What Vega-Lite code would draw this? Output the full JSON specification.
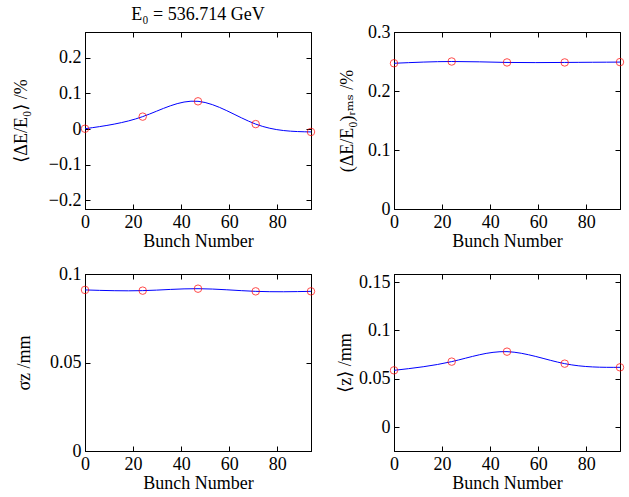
{
  "$schema": "https://vega.github.io/schema/vega-lite/v6.json",
  "background": "white",
  "padding": {"left": 11, "top": 5, "right": 5, "bottom": 5},
  "config": {
    "view": {"stroke": "black", "strokeWidth": 1},
    "axis": {
      "grid": false,
      "domainColor": "black",
      "tickColor": "black",
      "tickSize": -5,
      "labelPadding": 9,
      "labelFont": "'Liberation Serif', 'DejaVu Serif', serif",
      "labelFontSize": 18,
      "labelColor": "black",
      "labelFlush": false,
      "titleFont": "'Liberation Serif', 'DejaVu Serif', serif",
      "titleFontSize": 18,
      "titleFontWeight": "normal",
      "titleColor": "black",
      "titlePadding": 1
    }
  },
  "datasets": {
    "p1": [
      {"bunch": 0, "v": 0.001},
      {"bunch": 24, "v": 0.035},
      {"bunch": 47, "v": 0.078},
      {"bunch": 71, "v": 0.014},
      {"bunch": 94, "v": -0.008}
    ],
    "p2": [
      {"bunch": 0, "v": 0.247},
      {"bunch": 24, "v": 0.250},
      {"bunch": 47, "v": 0.2484},
      {"bunch": 71, "v": 0.2484},
      {"bunch": 94, "v": 0.249}
    ],
    "p3": [
      {"bunch": 0, "v": 0.0910},
      {"bunch": 24, "v": 0.0906},
      {"bunch": 47, "v": 0.0917},
      {"bunch": 71, "v": 0.0902},
      {"bunch": 94, "v": 0.0902}
    ],
    "p4": [
      {"bunch": 0, "v": 0.0588},
      {"bunch": 24, "v": 0.0678},
      {"bunch": 47, "v": 0.0781},
      {"bunch": 71, "v": 0.0657},
      {"bunch": 94, "v": 0.0619}
    ]
  },
  "columns": 2,
  "spacing": {"row": 65, "column": 83},
  "bounds": "flush",
  "concat": [
    {
      "width": 226, "height": 177,
      "title": {"text": "E₀ = 536.714 GeV", "font": "'Liberation Serif', 'DejaVu Serif', serif", "fontSize": 18, "fontWeight": "normal", "offset": 8, "color": "black"},
      "data": {"name": "p1"},
      "layer": [
        {"mark": {"type": "line", "interpolate": "natural", "color": "#0000ff", "strokeWidth": 1},
         "encoding": {
           "x": {"field": "bunch", "type": "quantitative", "scale": {"domain": [0, 94], "nice": false, "zero": false}, "axis": {"orient": "bottom", "values": [0, 20, 40, 60, 80], "title": "Bunch Number", "format": "d"}},
           "y": {"field": "v", "type": "quantitative", "scale": {"domain": [-0.2245, 0.2727], "nice": false, "zero": false}, "axis": {"orient": "left", "values": [-0.2, -0.1, 0, 0.1, 0.2], "title": "⟨ΔE/E₀⟩ /%", "format": ".2~f", "titlePadding": 18}}
         }},
        {"mark": {"type": "point", "shape": "circle", "filled": false, "color": "#ff0000", "size": 56, "strokeWidth": 1},
         "encoding": {
           "x": {"field": "bunch", "type": "quantitative", "axis": {"orient": "top", "values": [0, 20, 40, 60, 80], "labels": false, "title": null}},
           "y": {"field": "v", "type": "quantitative", "axis": {"orient": "right", "values": [-0.2, -0.1, 0, 0.1, 0.2], "labels": false, "title": null}}
         }}
      ],
      "resolve": {"axis": {"x": "independent", "y": "independent"}}
    },
    {
      "width": 226, "height": 177,
      "data": {"name": "p2"},
      "layer": [
        {"mark": {"type": "line", "interpolate": "natural", "color": "#0000ff", "strokeWidth": 1},
         "encoding": {
           "x": {"field": "bunch", "type": "quantitative", "scale": {"domain": [0, 94], "nice": false, "zero": false}, "axis": {"orient": "bottom", "values": [0, 20, 40, 60, 80], "title": "Bunch Number", "format": "d"}},
           "y": {"field": "v", "type": "quantitative", "scale": {"domain": [0, 0.3], "nice": false}, "axis": {"orient": "left", "values": [0, 0.1, 0.2, 0.3], "title": "(ΔE/E₀)ᵣₘₛ /%", "format": ".2~f", "titlePadding": 11}}
         }},
        {"mark": {"type": "point", "shape": "circle", "filled": false, "color": "#ff0000", "size": 56, "strokeWidth": 1},
         "encoding": {
           "x": {"field": "bunch", "type": "quantitative", "axis": {"orient": "top", "values": [0, 20, 40, 60, 80], "labels": false, "title": null}},
           "y": {"field": "v", "type": "quantitative", "axis": {"orient": "right", "values": [0, 0.1, 0.2, 0.3], "labels": false, "title": null}}
         }}
      ],
      "resolve": {"axis": {"x": "independent", "y": "independent"}}
    },
    {
      "width": 226, "height": 177,
      "data": {"name": "p3"},
      "layer": [
        {"mark": {"type": "line", "interpolate": "natural", "color": "#0000ff", "strokeWidth": 1},
         "encoding": {
           "x": {"field": "bunch", "type": "quantitative", "scale": {"domain": [0, 94], "nice": false, "zero": false}, "axis": {"orient": "bottom", "values": [0, 20, 40, 60, 80], "title": "Bunch Number", "format": "d"}},
           "y": {"field": "v", "type": "quantitative", "scale": {"domain": [0, 0.1], "nice": false}, "axis": {"orient": "left", "values": [0, 0.05, 0.1], "title": "σz /mm", "format": ".2~f", "titlePadding": 16}}
         }},
        {"mark": {"type": "point", "shape": "circle", "filled": false, "color": "#ff0000", "size": 56, "strokeWidth": 1},
         "encoding": {
           "x": {"field": "bunch", "type": "quantitative", "axis": {"orient": "top", "values": [0, 20, 40, 60, 80], "labels": false, "title": null}},
           "y": {"field": "v", "type": "quantitative", "axis": {"orient": "right", "values": [0, 0.05, 0.1], "labels": false, "title": null}}
         }}
      ],
      "resolve": {"axis": {"x": "independent", "y": "independent"}}
    },
    {
      "width": 226, "height": 177,
      "data": {"name": "p4"},
      "layer": [
        {"mark": {"type": "line", "interpolate": "natural", "color": "#0000ff", "strokeWidth": 1},
         "encoding": {
           "x": {"field": "bunch", "type": "quantitative", "scale": {"domain": [0, 94], "nice": false, "zero": false}, "axis": {"orient": "bottom", "values": [0, 20, 40, 60, 80], "title": "Bunch Number", "format": "d"}},
           "y": {"field": "v", "type": "quantitative", "scale": {"domain": [-0.0245, 0.1583], "nice": false, "zero": false}, "axis": {"orient": "left", "values": [0, 0.05, 0.1, 0.15], "title": "⟨z⟩ /mm", "format": ".2~f", "titlePadding": 4}}
         }},
        {"mark": {"type": "point", "shape": "circle", "filled": false, "color": "#ff0000", "size": 56, "strokeWidth": 1},
         "encoding": {
           "x": {"field": "bunch", "type": "quantitative", "axis": {"orient": "top", "values": [0, 20, 40, 60, 80], "labels": false, "title": null}},
           "y": {"field": "v", "type": "quantitative", "axis": {"orient": "right", "values": [0, 0.05, 0.1, 0.15], "labels": false, "title": null}}
         }}
      ],
      "resolve": {"axis": {"x": "independent", "y": "independent"}}
    }
  ]
}
